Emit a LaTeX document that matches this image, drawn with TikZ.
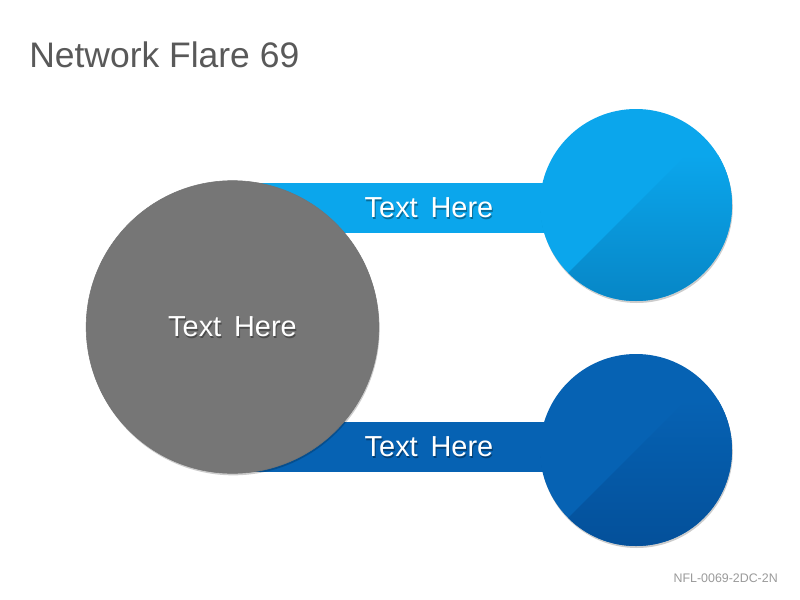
\documentclass[tikz,border=0pt]{standalone}
\usepackage{fontspec}
\setmainfont{Liberation Sans}
\usetikzlibrary{shadows,calc}
\definecolor{lightblue}{HTML}{0BA6EC}
\definecolor{lightbluedark}{HTML}{0786C6}
\definecolor{darkblue}{HTML}{0662B3}
\definecolor{darkbluedark}{HTML}{04509A}
\definecolor{graycirc}{HTML}{767676}
\definecolor{titlegray}{HTML}{595959}
\definecolor{footgray}{HTML}{9A9A9A}
\tikzset{
  band/.style={draw=none},
  labeltext/.style={text=white, font=\fontsize{21.7}{24}\selectfont, inner sep=0pt},
  shadowtext/.style={text=black, opacity=0.35, font=\fontsize{21.7}{24}\selectfont, inner sep=0pt},
  circshadow/.style={drop shadow={shadow xshift=0.6pt, shadow yshift=-1.5pt, opacity=0.2, fill=black}},
}
\begin{document}
\begin{tikzpicture}[x=0.75pt,y=-0.75pt]
\useasboundingbox[fill=white] (0,0) rectangle (800,600);
% title and footer
\node[anchor=west, text=titlegray, font=\fontsize{26.6}{30}\selectfont, inner sep=0pt] (title) at (29,55) {Network Flare 69};
\node[anchor=east, text=footgray, font=\fontsize{9.3}{11}\selectfont, inner sep=0pt] (foot) at (778,578) {NFL-0069-2DC-2N};
% bands
\fill[lightblue, band] (232,183) rectangle (600,233);
\fill[darkblue, band] (232,422) rectangle (600,472);
\coordinate (bandA) at (429,208);
\coordinate (bandB) at (429,447);
% gray circle
\node[circle, minimum size=219.5pt, fill=graycirc, draw=black!55, line width=0.4pt, circshadow, inner sep=0pt] (hub) at (232.5,327) {};
% top right circle
\coordinate (c1) at (636,205);
\fill[lightblue, circshadow] (c1) circle[radius=96];
\begin{scope}
  \clip (c1) circle[radius=96];
  \clip ($(c1)+(-250,250)$) -- ($(c1)+(250,-250)$) -- ($(c1)+(250,250)$) -- cycle;
  \shade[top color=lightblue, bottom color=lightbluedark] (540,155) rectangle (732,301);
\end{scope}
\node[circle, minimum size=144pt, inner sep=0pt] (sat1) at (c1) {};
% bottom right circle
\coordinate (c2) at (636,450);
\fill[darkblue, circshadow] (c2) circle[radius=96];
\begin{scope}
  \clip (c2) circle[radius=96];
  \clip ($(c2)+(-250,250)$) -- ($(c2)+(250,-250)$) -- ($(c2)+(250,250)$) -- cycle;
  \shade[top color=darkblue, bottom color=darkbluedark] (540,400) rectangle (732,546);
\end{scope}
\node[circle, minimum size=144pt, inner sep=0pt] (sat2) at (c2) {};
% texts
\node[shadowtext] at ($(hub)+(1,1.5)$) {Text\, Here};
\node[labeltext] (hubt) at (hub) {Text\, Here};
\node[shadowtext] at ($(bandA)+(1,1.5)$) {Text\, Here};
\node[labeltext] (t1) at (bandA) {Text\, Here};
\node[shadowtext] at ($(bandB)+(1,1.5)$) {Text\, Here};
\node[labeltext] (t2) at (bandB) {Text\, Here};
\end{tikzpicture}
\end{document}
